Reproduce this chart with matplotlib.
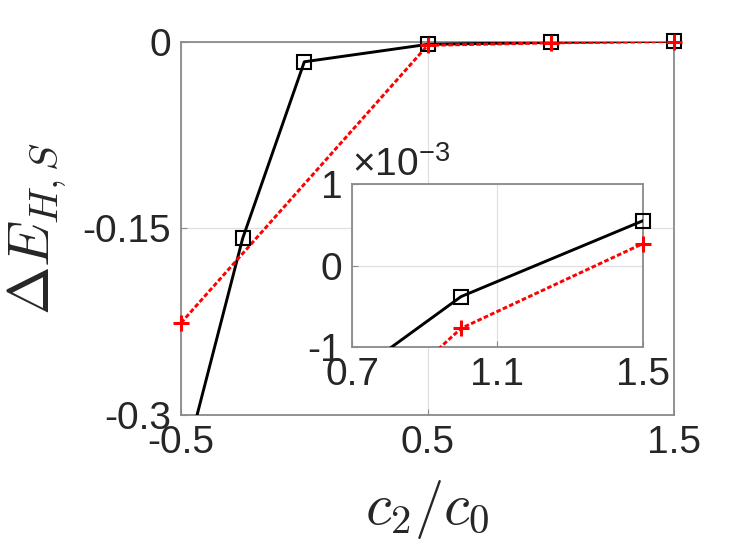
import numpy as np
import matplotlib
matplotlib.use('Agg')
import matplotlib.pyplot as plt

# ==========================================
# DATA
# ==========================================
x_black = [-0.5, -0.25, 0.0, 0.5, 1.0, 1.5]
y_black = [-0.35, -0.158, -0.016, -0.0020, -0.00038, 0.00055]

x_red = [-0.5, 0.5, 1.0, 1.5]
y_red = [-0.226, -0.0028, -0.00077, 0.00027]

main_xticks = [-0.5, 0.5, 1.5]
main_xticklabels = ['-0.5', '0.5', '1.5']
main_yticks = [-0.3, -0.15, 0]
main_yticklabels = ['-0.3', '-0.15', '0']

inset_xticks = [0.7, 1.1, 1.5]
inset_xticklabels = ['0.7', '1.1', '1.5']
inset_yticks = [-1, 0, 1]  # in units of 1e-3
inset_yticklabels = ['-1', '0', '1']

plt.rcParams['font.family'] = ['Liberation Sans', 'DejaVu Sans']
plt.rcParams['mathtext.fontset'] = 'cm'

spine_col = '#8a8a8a'
text_col = '#262626'
tick_fs = 28
label_fs = 42


def style_axes(ax):
    for s in ax.spines.values():
        s.set_color(spine_col)
        s.set_linewidth(1.3)
    ax.tick_params(direction='in', length=4, width=0.8, colors=spine_col,
                   labelcolor=text_col, labelsize=tick_fs, pad=7)
    ax.grid(True, color='#e0e0e0', linewidth=0.9)
    ax.set_axisbelow(True)


fig = plt.figure(figsize=(7.45, 5.51), dpi=100)

# ==========================================
# MAIN AXES
# ==========================================
ax = fig.add_axes([0.243, 0.247, 0.662, 0.677])
xb, yb = np.array(x_black), np.array(y_black)
xr, yr = np.array(x_red), np.array(y_red)
ax.plot(xb, yb, color='black', lw=2.1, zorder=3)
ax.plot(xr, yr, color='red', lw=2.1, dashes=(1.6, 0.8), zorder=4)
# markers drawn unclipped so the ones sitting on the frame stay whole
mb = (yb >= -0.303) & (yb <= 0.003)
mr = (yr >= -0.303) & (yr <= 0.003)
ax.plot(xb[mb], yb[mb], ls='none', marker='s', ms=10, mfc='none',
        mec='black', mew=1.5, clip_on=False, zorder=5)
ax.plot(xr[mr], yr[mr], ls='none', marker='+', ms=12, mec='red',
        mew=2.2, clip_on=False, zorder=6)
ax.set_xlim(-0.5, 1.5)
ax.set_ylim(-0.3, 0)
ax.set_xticks(main_xticks)
ax.set_xticklabels(main_xticklabels)
ax.set_yticks(main_yticks)
ax.set_yticklabels(main_yticklabels)
style_axes(ax)
ax.set_xlabel(r'$c_2/c_0$', fontsize=label_fs, color=text_col)
ax.set_ylabel(r'$\Delta E_{H,S}$', fontsize=label_fs, color=text_col)
ax.xaxis.set_label_coords(0.5, -0.168)
ax.yaxis.set_label_coords(-0.228, 0.5)

# ==========================================
# INSET (values in units of 1e-3)
# ==========================================
axi = fig.add_axes([0.4725, 0.370, 0.3905, 0.296])
ybi, yri = yb * 1e3, yr * 1e3
axi.plot(xb, ybi, color='black', lw=2.1, zorder=3)
axi.plot(xr, yri, color='red', lw=2.1, dashes=(1.6, 0.8), zorder=4)
mb = (xb >= 0.69) & (ybi >= -1.02) & (ybi <= 1.02)
mr = (xr >= 0.69) & (yri >= -1.02) & (yri <= 1.02)
axi.plot(xb[mb], ybi[mb], ls='none', marker='s', ms=10, mfc='none',
         mec='black', mew=1.5, clip_on=False, zorder=5)
axi.plot(xr[mr], yri[mr], ls='none', marker='+', ms=12, mec='red',
         mew=2.2, clip_on=False, zorder=6)
axi.set_xlim(0.7, 1.5)
axi.set_ylim(-1, 1)
axi.set_xticks(inset_xticks)
axi.set_xticklabels(inset_xticklabels)
axi.set_yticks(inset_yticks)
axi.set_yticklabels(inset_yticklabels)
style_axes(axi)
axi.text(0.0, 1.0, r'$\mathregular{\times10^{-3}}$', transform=axi.transAxes,
         fontsize=tick_fs, color=text_col, ha='left', va='bottom')

fig.savefig('out.png', dpi=100)
